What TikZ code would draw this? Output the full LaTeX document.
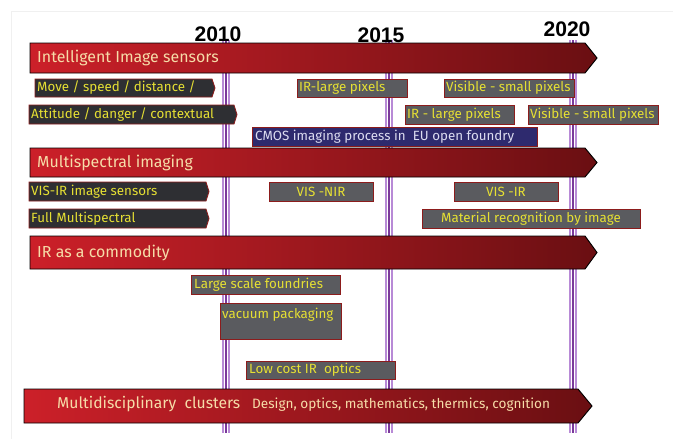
\documentclass[tikz,border=0pt]{standalone}
\usepackage{fontspec}
\setmainfont{Fira Sans}
\newfontfamily\yearfont{Liberation Sans}
\definecolor{barl}{HTML}{CC2029}
\definecolor{bard}{HTML}{6A0F12}
\definecolor{dunkel}{HTML}{2E2F33}
\definecolor{grauk}{HTML}{5A5B5F}
\definecolor{rahmen}{HTML}{8C1C1C}
\definecolor{gelb}{HTML}{E6E033}
\definecolor{creme}{HTML}{F6DCA8}
\definecolor{navy}{HTML}{2E2A6E}
\definecolor{lavendel}{HTML}{DCDCF0}
\definecolor{lila}{HTML}{7A3A9A}
\definecolor{lilal}{HTML}{B88AD6}
\tikzset{
  bar/.style={left color=barl,right color=bard,draw=black,line width=0.8pt},
  darkbox/.style={fill=dunkel,draw=rahmen,line width=0.7pt},
  greybox/.style={fill=grauk,draw=rahmen,line width=0.7pt},
  bartext/.style={text=creme,font=\fontsize{13.6}{15}\selectfont,inner sep=0pt,anchor=west},
  boxtext/.style={text=gelb,font=\fontsize{11.4}{13}\selectfont,inner sep=0pt,anchor=west},
  year/.style={font=\yearfont\bfseries\fontsize{18}{20}\selectfont,inner sep=0pt}
}
\begin{document}
\begin{tikzpicture}[x=0.03cm,y=-0.03cm]
  \useasboundingbox (0,0) rectangle (673,439);
  \draw[gray!12] (11,439)--(11,11)--(673,11);
  % year lines
  \foreach \x in {226,389,573} {
    \draw[lilal,line width=1pt] (\x-3,40)--(\x-3,433);
    \draw[lila,line width=1.2pt] (\x,40)--(\x,433);
    \draw[lilal,line width=1pt] (\x+3,40)--(\x+3,433);
  }
  \node[year] (y2010) at (218,34) {2010};
  \node[year] (y2015) at (381,35) {2015};
  \node[year] (y2020) at (567,29) {2020};
  % main bars
  \shadedraw[bar] (30,43)--(585,43)--(597,58)--(585,73)--(30,73)--cycle;
  \node[bartext] (iis) at (37,58) {Intelligent Image sensors};
  \shadedraw[bar] (30,148)--(585,148)--(597,162.5)--(585,177)--(30,177)--cycle;
  \node[bartext] (msi) at (37,162.5) {Multispectral imaging};
  \shadedraw[bar] (30,236)--(585,236)--(597,252.5)--(585,269)--(30,269)--cycle;
  \node[bartext] (irc) at (37,252.5) {IR as a commodity};
  \shadedraw[bar] (24,389)--(578,389)--(592,406)--(578,423)--(24,423)--cycle;
  \node[bartext,font=\fontsize{13.4}{15}\selectfont] (mdc) at (57,404) {Multidisciplinary\ \ clusters};
  \node[bartext,font=\fontsize{11.6}{13}\selectfont] (dsg) at (252,405) {Design, optics, mathematics, thermics, cognition};
  % arrow boxes
  \draw[darkbox] (35,79)--(212,79)--(215,88)--(212,97)--(35,97)--cycle;
  \node[boxtext] (mov) at (37,88) {Move / speed / distance /};
  \draw[darkbox] (29,105)--(234,105)--(237,114.5)--(234,124)--(29,124)--cycle;
  \node[boxtext] (att) at (31,114.5) {Attitude / danger / contextual};
  \draw[darkbox] (29,182)--(206,182)--(209,191.5)--(206,201)--(29,201)--cycle;
  \node[boxtext] (vis) at (31,191.5) {VIS-IR image sensors};
  \draw[darkbox] (29,209)--(206,209)--(209,218.5)--(206,228)--(29,228)--cycle;
  \node[boxtext] (fms) at (31,218.5) {Full Multispectral};
  % grey boxes
  \draw[greybox] (297,79) rectangle (407,97);
  \node[boxtext] (irl) at (299,88) {IR-large pixels};
  \draw[greybox] (444,79) rectangle (574,97);
  \node[boxtext] (vsp) at (446,88) {Visible - small pixels};
  \draw[greybox] (405,105) rectangle (514,124);
  \node[boxtext] (irl2) at (407,114.5) {IR - large pixels};
  \draw[greybox] (528,105) rectangle (658,124);
  \node[boxtext] (vsp2) at (530,114.5) {Visible - small pixels};
  \draw[greybox,fill=navy] (252,127) rectangle (537,146);
  \node[boxtext,text=lavendel] (cmos) at (255,136.5) {CMOS imaging process in\ \ EU open foundry};
  \draw[greybox] (269,182) rectangle (373,201);
  \node[boxtext,anchor=center] (vnir) at (321,191.5) {VIS -NIR};
  \draw[greybox] (454,182) rectangle (558,201);
  \node[boxtext,anchor=center] (vir) at (506,191.5) {VIS -IR};
  \draw[greybox] (422,209) rectangle (640,228);
  \node[boxtext,anchor=center] (mat) at (531,218.5) {Material recognition by image};
  \draw[greybox] (191,275) rectangle (340,294);
  \node[boxtext] (lsf) at (194,284.5) {Large scale foundries};
  \draw[greybox] (220,303) rectangle (341,339);
  \node[boxtext] (vac) at (222,315) {vacuum packaging};
  \draw[greybox] (246,361) rectangle (395,379);
  \node[boxtext] (lco) at (249,370) {Low cost IR\ \ optics};
\end{tikzpicture}
\end{document}
